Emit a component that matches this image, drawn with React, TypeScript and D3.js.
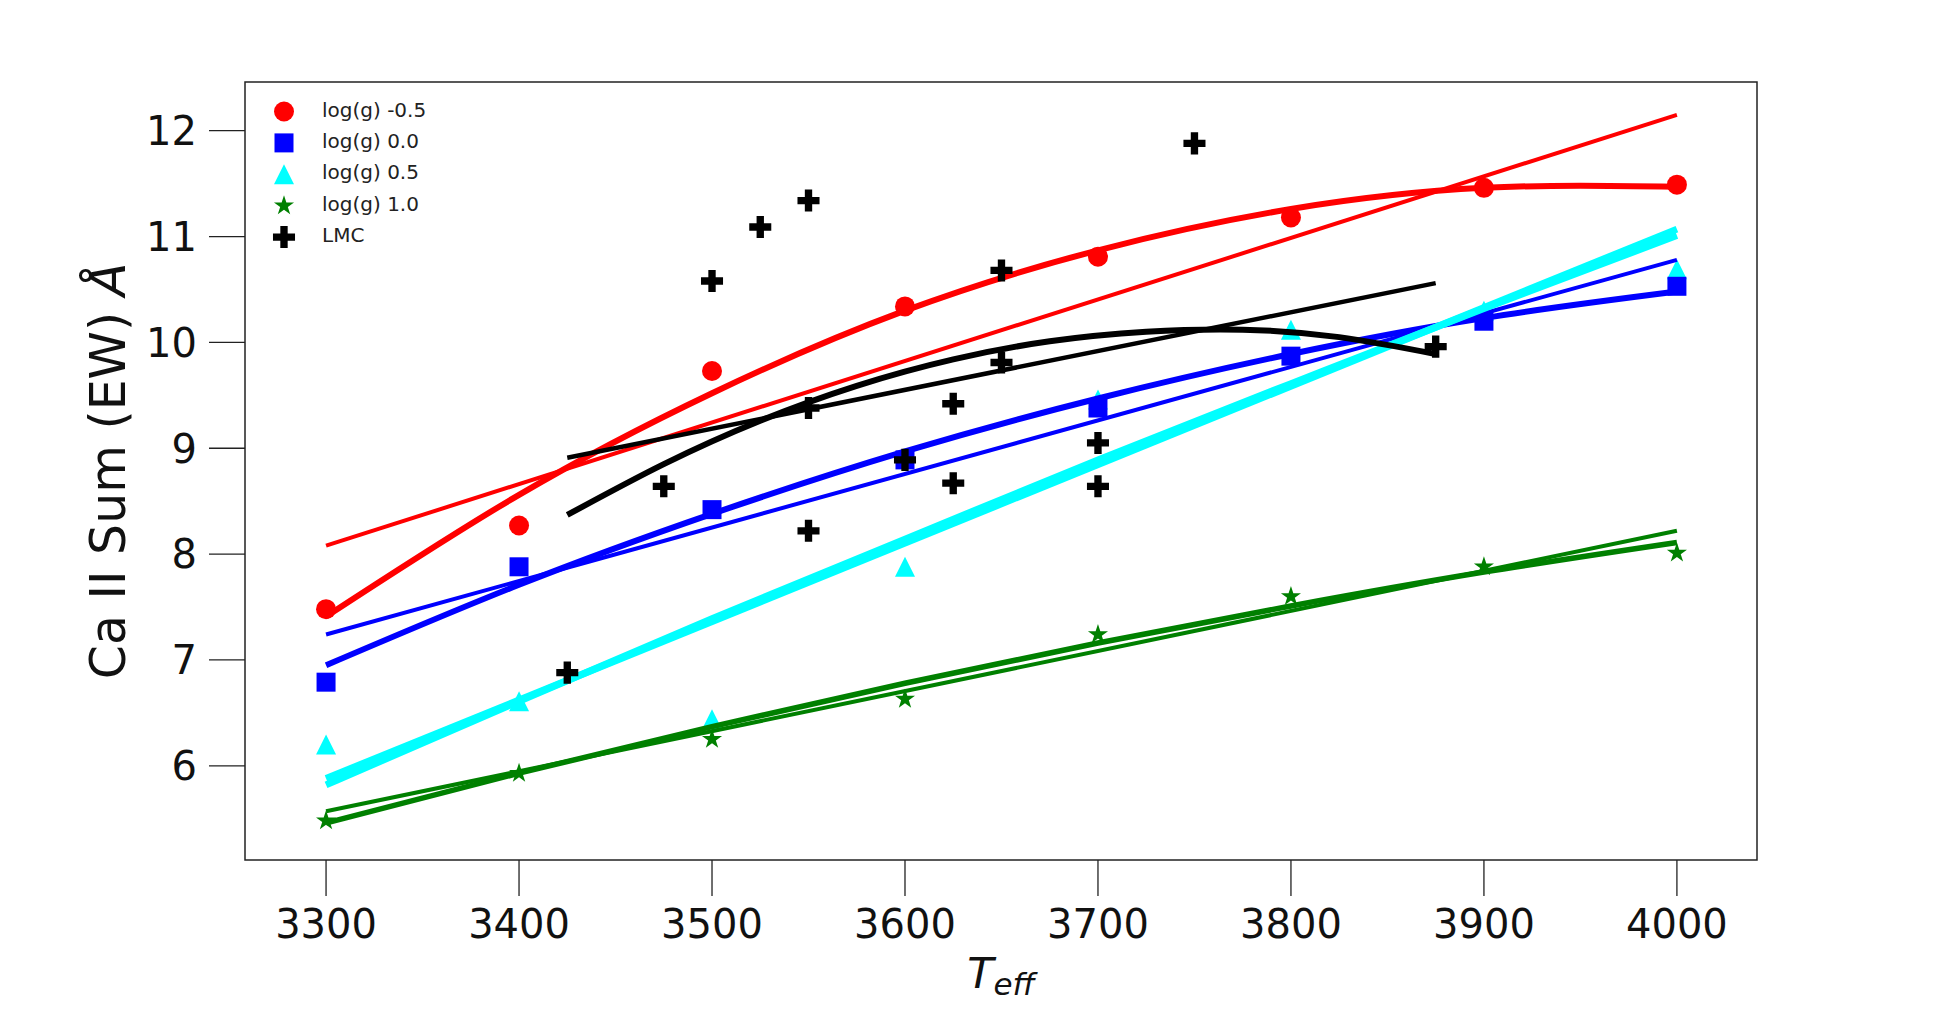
import { useMemo } from 'react';
import * as d3 from 'd3';

// effective temperatures of the model grid
const temps = [3300, 3400, 3500, 3600, 3700, 3800, 3900, 4000];

// Ca II summed equivalent widths per log(g)
const ewLoggM05 = [7.48, 8.27, 9.73, 10.34, 10.81, 11.18, 11.46, 11.49];
const ewLogg00 = [6.79, 7.88, 8.42, 8.89, 9.38, 9.87, 10.2, 10.53];
const ewLogg05 = [6.2, 6.61, 6.44, 7.88, 9.46, 10.12, 10.3, 10.69];
const ewLogg10 = [5.48, 5.93, 6.25, 6.63, 7.24, 7.6, 7.88, 8.01];

// fitted curves, read along the model grid
const fitQuadM05 = [7.41, 8.56, 9.52, 10.3, 10.87, 11.26, 11.46, 11.47];
const fitQuad00 = [6.95, 7.71, 8.38, 8.97, 9.47, 9.89, 10.23, 10.48];
const fitQuad05 = [5.82, 6.61, 7.39, 8.14, 8.89, 9.61, 10.32, 11.01];
const fitQuad10 = [5.46, 5.93, 6.37, 6.78, 7.16, 7.51, 7.83, 8.11];

// linear fits: value at first and last temperature
const fitLinM05 = [8.08, 12.15];
const fitLin00 = [7.24, 10.78];
const fitLin05 = [5.88, 11.07];
const fitLin10 = [5.57, 8.22];

// LMC stars
const lmcTemps = [3425, 3475, 3500, 3525, 3550, 3550, 3550, 3600, 3625, 3625, 3650, 3650, 3700, 3700, 3750, 3875];
const lmcEW = [6.88, 8.64, 10.58, 11.09, 11.34, 9.38, 8.22, 8.89, 9.42, 8.67, 10.68, 9.81, 9.05, 8.64, 11.88, 9.96];
const lmcFitTemps = [3425, 3475, 3525, 3575, 3625, 3675, 3725, 3775, 3825, 3875];
const lmcFitQuad = [8.37, 8.85, 9.26, 9.59, 9.84, 10.01, 10.1, 10.12, 10.05, 9.89];
const lmcFitLin = [8.91, 10.56];

const xTicks = [3300, 3400, 3500, 3600, 3700, 3800, 3900, 4000];
const yTicks = [6, 7, 8, 9, 10, 11, 12];

const legendLabels = ['log(g) -0.5', 'log(g) 0.0', 'log(g) 0.5', 'log(g) 1.0', 'LMC'];

const W = 1952;
const H = 1012;
const margin = { left: 245, right: 1757, top: 82, bottom: 860 };
const FONT = 'DejaVu Sans, sans-serif';

// matplotlib-like marker shapes
const triangleType = {
  draw(ctx: any, size: number) {
    const h = Math.sqrt(size);
    ctx.moveTo(0, -h / 2);
    ctx.lineTo(h / 2, h / 2);
    ctx.lineTo(-h / 2, h / 2);
    ctx.closePath();
  },
};

const markers = {
  circle: d3.symbol().type(d3.symbolCircle).size(Math.PI * 100)(),
  square: d3.symbol().type(d3.symbolSquare).size(19 * 19)(),
  triangle: d3.symbol().type(triangleType as any).size(20 * 20)(),
  star: d3.symbol().type(d3.symbolStar).size(125)(),
  cross: d3.symbol().type(d3.symbolCross).size(270)(),
};

const App = () => {
  const x = useMemo(() => d3.scaleLinear().domain([3258, 4041.5]).range([margin.left, margin.right]), []);
  const y = useMemo(() => d3.scaleLinear().domain([5.11, 12.46]).range([margin.bottom, margin.top]), []);

  const curve = d3.line<[number, number]>()
    .x(d => x(d[0]))
    .y(d => y(d[1]))
    .curve(d3.curveNatural);
  const straight = d3.line<[number, number]>()
    .x(d => x(d[0]))
    .y(d => y(d[1]));

  const tFirst = temps[0];
  const tLast = temps[temps.length - 1];
  const zip = (xs: number[], ys: number[]) => xs.map((t, i) => [t, ys[i]] as [number, number]);
  const ends = (v: number[]) => [[tFirst, v[0]], [tLast, v[1]]] as [number, number][];

  const groups = [
    { color: '#ff0000', marker: markers.circle, values: ewLoggM05, quad: fitQuadM05, lin: fitLinM05, quadW: 6, linW: 4 },
    { color: '#0000ff', marker: markers.square, values: ewLogg00, quad: fitQuad00, lin: fitLin00, quadW: 6, linW: 4 },
    { color: '#00ffff', marker: markers.triangle, values: ewLogg05, quad: fitQuad05, lin: fitLin05, quadW: 7, linW: 7 },
    { color: '#008000', marker: markers.star, values: ewLogg10, quad: fitQuad10, lin: fitLin10, quadW: 5.5, linW: 4 },
  ];

  // scatter order: triangles sit under the squares
  const scatterOrder = [0, 2, 1, 3];

  const legendRows = [
    { label: legendLabels[0], color: '#ff0000', marker: markers.circle },
    { label: legendLabels[1], color: '#0000ff', marker: markers.square },
    { label: legendLabels[2], color: '#00ffff', marker: markers.triangle },
    { label: legendLabels[3], color: '#008000', marker: markers.star },
    { label: legendLabels[4], color: '#000000', marker: markers.cross },
  ];

  return (
    <svg width={W} height={H} style={{ position: 'absolute', left: 0, top: 0, background: '#fff' }} fontFamily={FONT}>
      <rect x={0} y={0} width={W} height={H} fill="#fff" />

      {/* scatter of the model grid */}
      {scatterOrder.map(gi => {
        const g = groups[gi];
        return (
          <g key={'pts' + gi} fill={g.color}>
            {temps.map((t, i) => (
              <path key={i} d={g.marker!} transform={`translate(${x(t)},${y(g.values[i])})`} />
            ))}
          </g>
        );
      })}

      {/* fits */}
      {groups.map((g, gi) => (
        <g key={'fit' + gi} fill="none" stroke={g.color} strokeLinecap="butt">
          <path d={straight(ends(g.lin))!} strokeWidth={g.linW} />
          <path d={curve(zip(temps, g.quad))!} strokeWidth={g.quadW} />
        </g>
      ))}

      <g fill="none" stroke="#000">
        <path d={straight([[lmcFitTemps[0], lmcFitLin[0]], [lmcFitTemps[lmcFitTemps.length - 1], lmcFitLin[1]]])!} strokeWidth={4.5} />
        <path d={curve(zip(lmcFitTemps, lmcFitQuad))!} strokeWidth={6} />
      </g>

      {/* LMC points */}
      <g fill="#000">
        {lmcTemps.map((t, i) => (
          <path key={i} d={markers.cross!} transform={`translate(${x(t)},${y(lmcEW[i])})`} />
        ))}
      </g>

      {/* frame */}
      <rect x={margin.left} y={margin.top} width={margin.right - margin.left} height={margin.bottom - margin.top}
        fill="none" stroke="#222" strokeWidth={1.5} />

      {/* x axis */}
      <g>
        {xTicks.map(t => (
          <g key={t} transform={`translate(${x(t)},0)`}>
            <line y1={margin.bottom} y2={margin.bottom + 36} stroke="#222" strokeWidth={1.3} />
            <text y={938} textAnchor="middle" fontSize={40} fill="#111">{t}</text>
          </g>
        ))}
        <text x={(margin.left + margin.right) / 2} y={988} textAnchor="middle" fill="#111">
          <tspan fontSize={43} fontStyle="italic">T</tspan>
          <tspan fontSize={31} fontStyle="italic" dy={7}>eff</tspan>
        </text>
      </g>

      {/* y axis */}
      <g>
        {yTicks.map(v => (
          <g key={v} transform={`translate(0,${y(v)})`}>
            <line x1={margin.left - 36} x2={margin.left} stroke="#222" strokeWidth={1.3} />
            <text x={margin.left - 48} dy="0.36em" textAnchor="end" fontSize={40} fill="#111">{v}</text>
          </g>
        ))}
        <text transform={`translate(125,${(margin.top + margin.bottom) / 2}) rotate(-90)`} textAnchor="middle" fontSize={49} fill="#111">
          Ca II Sum (EW) <tspan fontStyle="italic">Å</tspan>
        </text>
      </g>

      {/* legend */}
      <g>
        {legendRows.map((r, i) => {
          const ry = 111.5 + i * 31.4;
          return (
            <g key={r.label}>
              <path d={r.marker!} fill={r.color} transform={`translate(284,${ry})`} />
              <text x={322} y={ry + 5} fontSize={20} fill="#222">{r.label}</text>
            </g>
          );
        })}
      </g>
    </svg>
  );
};

export default App;
